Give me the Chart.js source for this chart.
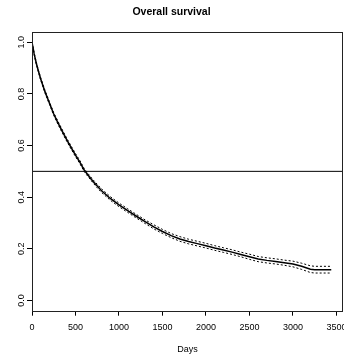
<!DOCTYPE html>
<html lang="en">
<head>
<meta charset="UTF-8">
<title>Overall survival</title>
<script src="https://cdn.jsdelivr.net/npm/chart.js"></script>
<style>
  html, body { margin: 0; padding: 0; background: #fff; }
  #wrap { width: 344px; height: 356px; }
</style>
</head>
<body>
<div id="wrap"><canvas id="survChart" width="344" height="356"></canvas></div>
<script>
// Kaplan-Meier estimate (days, survival, 95% band)
const days = [0, 25, 50, 75, 100, 150, 200, 250, 300, 350, 400, 450, 500, 550, 600,
  650, 700, 750, 800, 900, 1000, 1100, 1200, 1300, 1400, 1500, 1600, 1700, 1800, 1900,
  2000, 2100, 2200, 2300, 2400, 2500, 2600, 2700, 2800, 2900, 3000, 3100, 3200, 3250, 3440];
const survival = [1.000, 0.955, 0.918, 0.887, 0.858, 0.808, 0.765, 0.722, 0.687, 0.654,
  0.622, 0.592, 0.563, 0.536, 0.505, 0.483, 0.462, 0.443, 0.425, 0.395,
  0.370, 0.348, 0.326, 0.305, 0.285, 0.267, 0.251, 0.238, 0.228, 0.220,
  0.212, 0.203, 0.195, 0.187, 0.178, 0.169, 0.160, 0.155, 0.151, 0.146,
  0.141, 0.132, 0.121, 0.119, 0.119];
const upper = [1.000, 0.958, 0.922, 0.891, 0.863, 0.813, 0.770, 0.727, 0.693, 0.660,
  0.628, 0.598, 0.569, 0.542, 0.511, 0.489, 0.468, 0.450, 0.432, 0.402,
  0.377, 0.355, 0.333, 0.312, 0.293, 0.275, 0.259, 0.247, 0.237, 0.229,
  0.221, 0.212, 0.204, 0.196, 0.187, 0.179, 0.170, 0.165, 0.161, 0.156,
  0.152, 0.144, 0.134, 0.132, 0.132];
const lower = [1.000, 0.952, 0.914, 0.883, 0.853, 0.803, 0.760, 0.717, 0.681, 0.648,
  0.616, 0.586, 0.557, 0.530, 0.499, 0.477, 0.456, 0.436, 0.418, 0.388,
  0.363, 0.341, 0.319, 0.298, 0.277, 0.259, 0.243, 0.229, 0.219, 0.211,
  0.203, 0.194, 0.186, 0.178, 0.169, 0.159, 0.150, 0.145, 0.141, 0.136,
  0.130, 0.120, 0.108, 0.106, 0.106];
const medianLine = 0.5;
const xTicks = [0, 500, 1000, 1500, 2000, 2500, 3000, 3500];
const yTicks = [0.0, 0.2, 0.4, 0.6, 0.8, 1.0];

const FONT = "'Liberation Sans', Arial, Helvetica, sans-serif";

function toPoints(ys) {
  return days.map((d, i) => ({ x: d, y: ys[i] }));
}

// box round the plot region, like R's box()
const boxPlugin = {
  id: 'box',
  afterDraw(chart) {
    const a = chart.chartArea;
    const ctx = chart.ctx;
    ctx.save();
    ctx.strokeStyle = '#222';
    ctx.lineWidth = 1;
    ctx.strokeRect(Math.round(a.left) + 0.5, Math.round(a.top) + 0.5,
      Math.round(a.right - a.left) - 1, Math.round(a.bottom - a.top));
    ctx.restore();
  }
};

const ctx = document.getElementById('survChart').getContext('2d');
new Chart(ctx, {
  type: 'line',
  data: {
    datasets: [
      { data: toPoints(upper), borderColor: '#000', borderWidth: 1, borderDash: [2, 2], pointRadius: 0, tension: 0 },
      { data: toPoints(lower), borderColor: '#000', borderWidth: 1, borderDash: [2, 2], pointRadius: 0, tension: 0 },
      { data: toPoints(survival), borderColor: '#000', borderWidth: 1.5, pointRadius: 0, tension: 0 },
      { data: [{ x: 0, y: medianLine }, { x: 3575, y: medianLine }], borderColor: '#000', borderWidth: 1, pointRadius: 0 }
    ]
  },
  options: {
    responsive: false,
    animation: false,
    devicePixelRatio: 1,
    layout: { padding: { left: 0, right: 1, top: 0, bottom: 0 } },
    plugins: {
      legend: { display: false },
      tooltip: { enabled: false },
      title: {
        display: true,
        text: 'Overall survival',
        color: '#000',
        font: { family: FONT, size: 10.5, weight: 'bold' },
        padding: { top: 5.5, bottom: 13.9 }
      }
    },
    scales: {
      x: {
        type: 'linear',
        min: 0,
        max: 3575,
        afterBuildTicks(scale) { scale.ticks = xTicks.map(v => ({ value: v })); },
        afterFit(scale) { scale.height = 45.3; scale.paddingLeft = 0; scale.paddingRight = 0; },
        ticks: {
          color: '#000', padding: 6.5, maxRotation: 0, font: { family: FONT, size: 9 },
          callback: v => String(v)
        },
        grid: { drawOnChartArea: false, drawTicks: true, tickLength: 5, color: '#000' },
        border: { display: false },
        title: { display: true, text: 'Days', color: '#000', font: { family: FONT, size: 9 }, padding: { top: 0, bottom: 1.5 } }
      },
      y: {
        type: 'linear',
        min: -0.04,
        max: 1.04,
        afterBuildTicks(scale) { scale.ticks = yTicks.map(v => ({ value: v })); },
        afterFit(scale) { scale.width = 32; scale.paddingTop = 0; scale.paddingBottom = 0; },
        ticks: {
          color: '#000', padding: -1, minRotation: 90, maxRotation: 90, crossAlign: 'center',
          font: { family: FONT, size: 9 },
          callback: v => v.toFixed(1)
        },
        grid: { drawOnChartArea: false, drawTicks: true, tickLength: 5, color: '#000' },
        border: { display: false }
      }
    }
  },
  plugins: [boxPlugin]
});
</script>
</body>
</html>
